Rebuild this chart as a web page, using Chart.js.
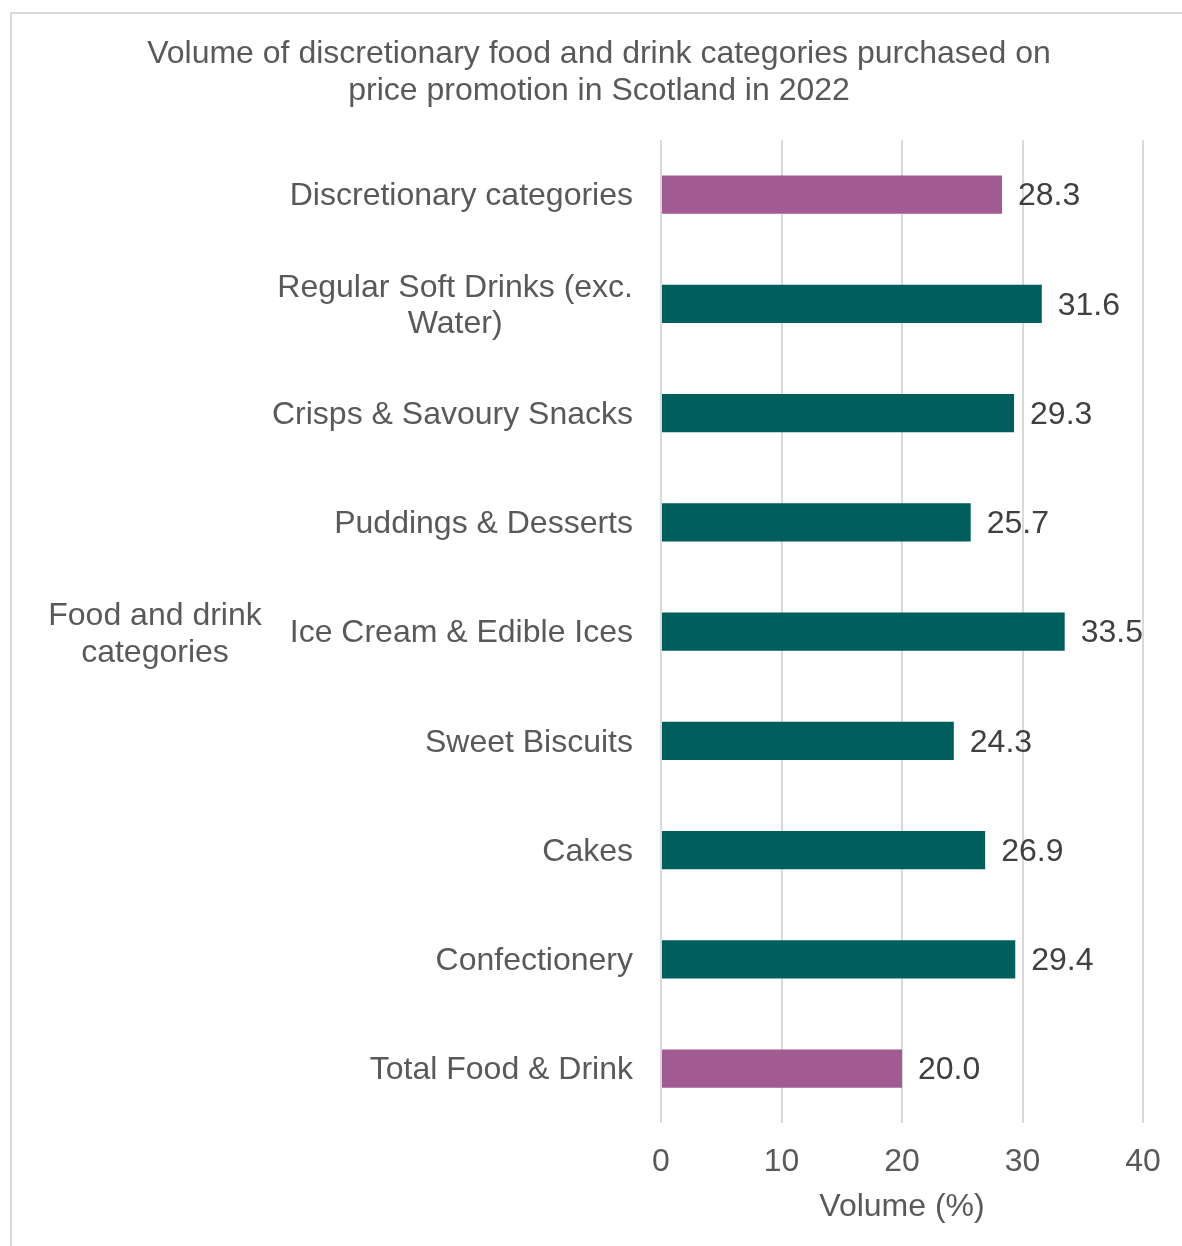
<!DOCTYPE html>
<html>
<head>
<meta charset="utf-8">
<script src="https://cdn.jsdelivr.net/npm/chart.js@4/dist/chart.umd.min.js"></script>
<style>
	html, body { margin: 0; padding: 0; background: #fff; overflow: hidden; }
	#frame {
		position: absolute;
		left: 10px;
		top: 12px;
		width: 1200px;
		height: 1260px;
		border: 2px solid #d9d9d9;
		box-sizing: border-box;
	}
	#chart { position: absolute; left: 0; top: 0; }
</style>
</head>
<body>
<div id="frame"><canvas id="chart" width="1180" height="1240"></canvas></div>
<script>
// Category labels, top to bottom (arrays of lines where the label wraps)
const categories = [
	'Discretionary categories',
	['Regular Soft Drinks (exc.', 'Water)'],
	'Crisps & Savoury Snacks',
	'Puddings & Desserts',
	'Ice Cream & Edible Ices',
	'Sweet Biscuits',
	'Cakes',
	'Confectionery',
	'Total Food & Drink'
];
// Share of volume bought on price promotion (%)
const volumes = [28.3, 31.6, 29.3, 25.7, 33.5, 24.3, 26.9, 29.4, 20.0];
// Summary rows are purple, individual categories teal
const isSummary = [true, false, false, false, false, false, false, false, true];
const xTicks = [0, 10, 20, 30, 40];

const titleLines = [
	'Volume of discretionary food and drink categories purchased on',
	'price promotion in Scotland in 2022'
];
const yTitleLines = ['Food and drink', 'categories'];

const PURPLE = '#a25a93';
const TEAL = '#005e5d';
const FONT = "'Liberation Sans', Arial, sans-serif";
const FONT_SIZE = 32;

// Title centred on the whole canvas (the built-in one centres inside the layout padding).
const titlePlugin = {
	id: 'centredTitle',
	afterDraw( chart ) {
		const ctx = chart.ctx;
		ctx.save();
		ctx.font = FONT_SIZE + 'px ' + FONT;
		ctx.fillStyle = '#595959';
		ctx.textAlign = 'center';
		ctx.textBaseline = 'middle';
		titleLines.forEach( ( l, j ) => ctx.fillText( l, chart.width / 2 - 3, 40 + j * 37 ) );
		ctx.restore();
	}
};

// Draws the wrapped category labels (lines centred inside a right-aligned block),
// the horizontal y-axis caption and the value labels at the end of each bar.
const labelsPlugin = {
	id: 'labelsPlugin',
	afterDatasetsDraw( chart ) {
		const ctx = chart.ctx;
		const yScale = chart.scales.y;
		const area = chart.chartArea;
		const lineH = 36;
		ctx.save();
		ctx.font = FONT_SIZE + 'px ' + FONT;
		ctx.textBaseline = 'middle';
		ctx.textAlign = 'center';
		ctx.fillStyle = '#595959';

		const rightEdge = area.left - 28;
		categories.forEach( ( cat, i ) => {
			const lines = Array.isArray( cat ) ? cat : [cat];
			const maxW = Math.max( ...lines.map( l => ctx.measureText( l ).width ) );
			const cx = rightEdge - maxW / 2;
			const cy = yScale.getPixelForTick( i ) + 2;
			lines.forEach( ( l, j ) => {
				ctx.fillText( l, cx, cy + ( j - ( lines.length - 1 ) / 2 ) * lineH );
			} );
		} );

		const midY = ( area.top + area.bottom ) / 2 + 3;
		yTitleLines.forEach( ( l, j ) => {
			ctx.fillText( l, 143, midY + ( j - ( yTitleLines.length - 1 ) / 2 ) * 37 );
		} );

		ctx.textAlign = 'left';
		ctx.fillStyle = '#404040';
		chart.getDatasetMeta( 0 ).data.forEach( ( bar, i ) => {
			ctx.fillText( volumes[i].toFixed( 1 ), bar.x + 16, bar.y + 2 );
		} );
		ctx.restore();
	}
};

new Chart( document.getElementById( 'chart' ), {
	type: 'bar',
	data: {
		labels: categories,
		datasets: [{
			data: volumes,
			backgroundColor: isSummary.map( s => s ? PURPLE : TEAL ),
			barPercentage: 0.35,
			categoryPercentage: 1
		}]
	},
	options: {
		indexAxis: 'y',
		responsive: false,
		animation: false,
		layout: {
			padding: { left: 641, right: 49, top: 126, bottom: 28 }
		},
		scales: {
			x: {
				min: 0,
				max: 40,
				afterBuildTicks: ( scale ) => {
					scale.ticks = xTicks.map( v => ( { value: v } ) );
				},
				grid: { color: '#d9d9d9', lineWidth: 2, drawTicks: false },
				border: { display: false },
				ticks: {
					color: '#595959',
					padding: 20,
					font: { family: FONT, size: FONT_SIZE }
				},
				title: {
					display: true,
					text: 'Volume (%)',
					color: '#595959',
					padding: { top: -14, bottom: 0 },
					font: { family: FONT, size: FONT_SIZE }
				}
			},
			y: {
				grid: { display: false },
				border: { display: false },
				ticks: { display: false }
			}
		},
		plugins: {
			legend: { display: false },
			tooltip: { enabled: false },
			title: { display: false }
		}
	},
	plugins: [labelsPlugin, titlePlugin]
} );
</script>
</body>
</html>
